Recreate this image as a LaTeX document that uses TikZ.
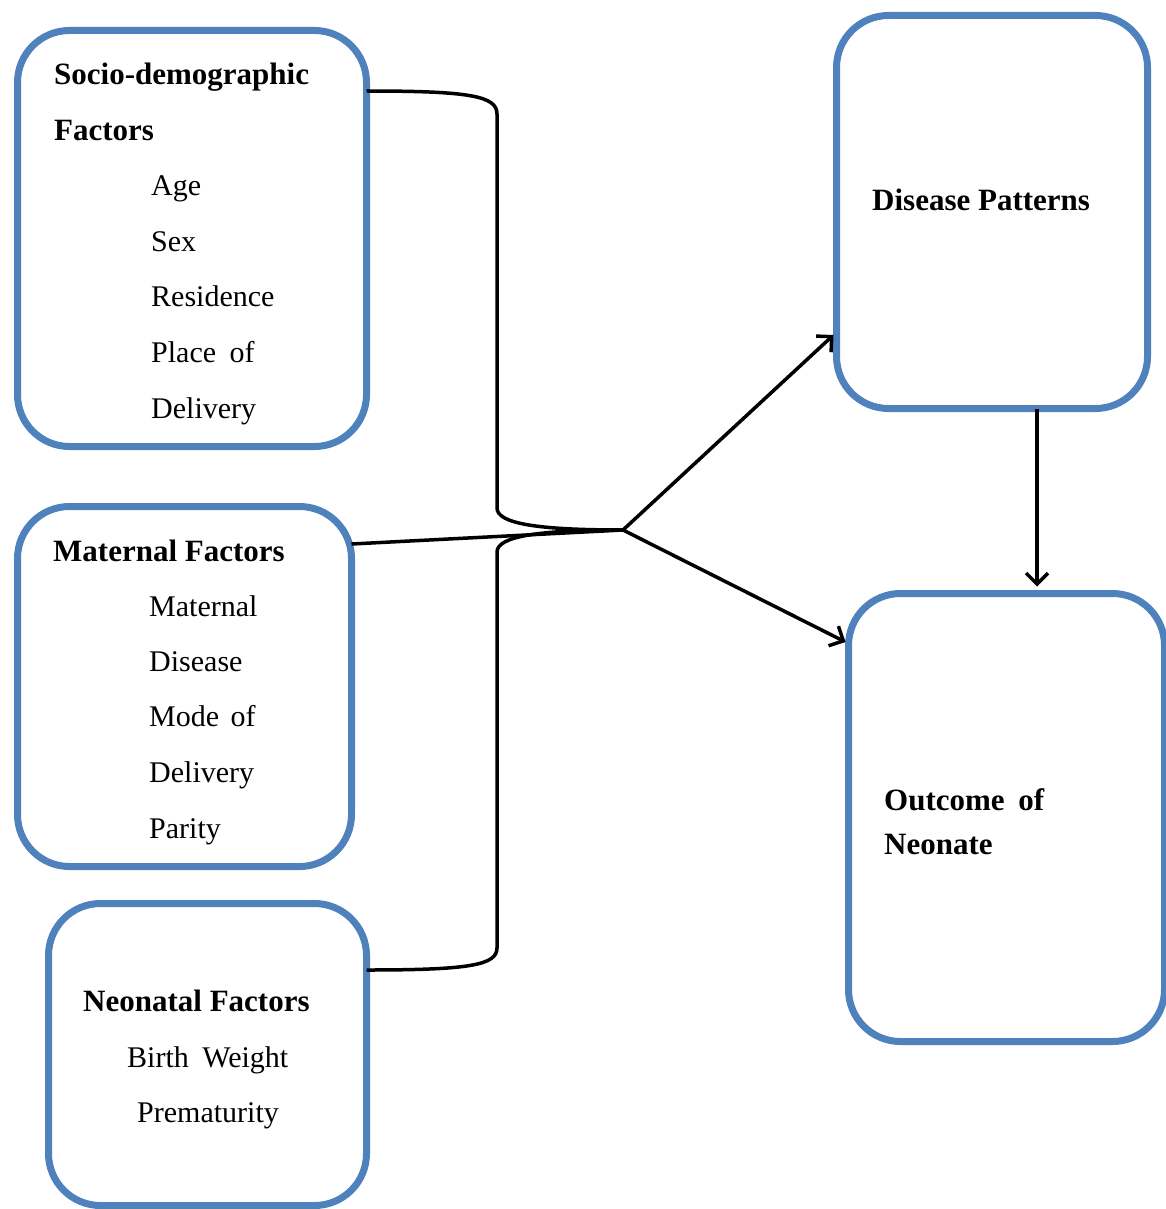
\documentclass[tikz,border=0pt]{standalone}
\usepackage{fontspec}
\setmainfont{Liberation Serif}
\usetikzlibrary{arrows.meta}
\definecolor{boxblue}{HTML}{4F81BD}
\begin{document}
\begin{tikzpicture}[x=1pt,y=-1pt,
  box/.style={draw=boxblue, line width=7pt, rounded corners=52pt, inner sep=0pt, outer sep=0pt, anchor=north west},
  lbl/.style={anchor=base west, inner sep=0pt, font=\fontsize{30}{36}\selectfont},
  hd/.style={lbl, font=\fontsize{31}{36}\selectfont\bfseries},
  conn/.style={draw=black, line width=3.5pt},
  arr/.style={conn, -{Straight Barb[length=11pt,width=22pt,line width=3.5pt]}}
]
\useasboundingbox (0,0) rectangle (1166,1209);
% boxes (centre-line geometry)
\node[box, minimum width=349pt, minimum height=416pt] (b1) at (17.5,30.5) {};
\node[box, minimum width=334pt, minimum height=360pt] (b2) at (17.5,506.5) {};
\node[box, minimum width=318pt, minimum height=302pt] (b3) at (48.5,903.5) {};
\node[box, minimum width=311pt, minimum height=393pt] (b4) at (836.5,15.5) {};
\node[box, minimum width=316pt, minimum height=448pt] (b5) at (848.5,593.5) {};
% texts
\node[hd] (t1a) at (54,85) {Socio-demographic};
\node[hd] (t1b) at (54,141) {Factors};
\node[lbl] (t1c) at (151,195) {Age};
\node[lbl] (t1d) at (151,251) {Sex};
\node[lbl] (t1e) at (151,306) {Residence};
\node[lbl] (t1f) at (151,362) {Place\hspace{6pt} of};
\node[lbl] (t1g) at (151,418) {Delivery};
\node[hd] (t2a) at (53,561) {Maternal Factors};
\node[lbl] (t2b) at (149,616) {Maternal};
\node[lbl] (t2c) at (149,671) {Disease};
\node[lbl] (t2d) at (149,726) {Mode\hspace{4pt} of};
\node[lbl] (t2e) at (149,782) {Delivery};
\node[lbl] (t2f) at (149,838) {Parity};
\node[hd] (t3a) at (83,1011) {Neonatal Factors};
\node[lbl] (t3b) at (127,1067) {Birth\hspace{6pt} Weight};
\node[lbl] (t3c) at (137,1122) {Prematurity};
\node[hd] (t4) at (872,210) {Disease Patterns};
\node[hd] (t5a) at (884,810) {Outcome\hspace{6pt} of};
\node[hd] (t5b) at (884,854) {Neonate};
% connector points
\coordinate (j) at (623,530);
\coordinate (p1) at (0,91);
\coordinate (p2) at (0,544);
\coordinate (p3) at (0,970);
\coordinate (q4) at (0,335);
\coordinate (q5) at (0,642);
\coordinate (vx) at (1037,0);
% bracket
\draw[conn, line join=round] (b1.east |- p1) .. controls (470,91) and (497,96) .. (497,114)
  -- (497,508) .. controls (497,524) and (540,530) .. (j);
\draw[conn, line join=round] (b3.east |- p3) .. controls (470,970) and (497,965) .. (497,948)
  -- (497,552) .. controls (497,536) and (540,530) .. (j);
\draw[conn] (b2.east |- p2) -- (j);
% arrows
\draw[arr] (j) -- ([xshift=-3pt]b4.west |- q4);
\draw[arr] (j) -- ([xshift=-3pt]b5.west |- q5);
\draw[arr] (b4.south -| vx) -- ([yshift=7pt]b5.north -| vx);
\end{tikzpicture}
\end{document}
